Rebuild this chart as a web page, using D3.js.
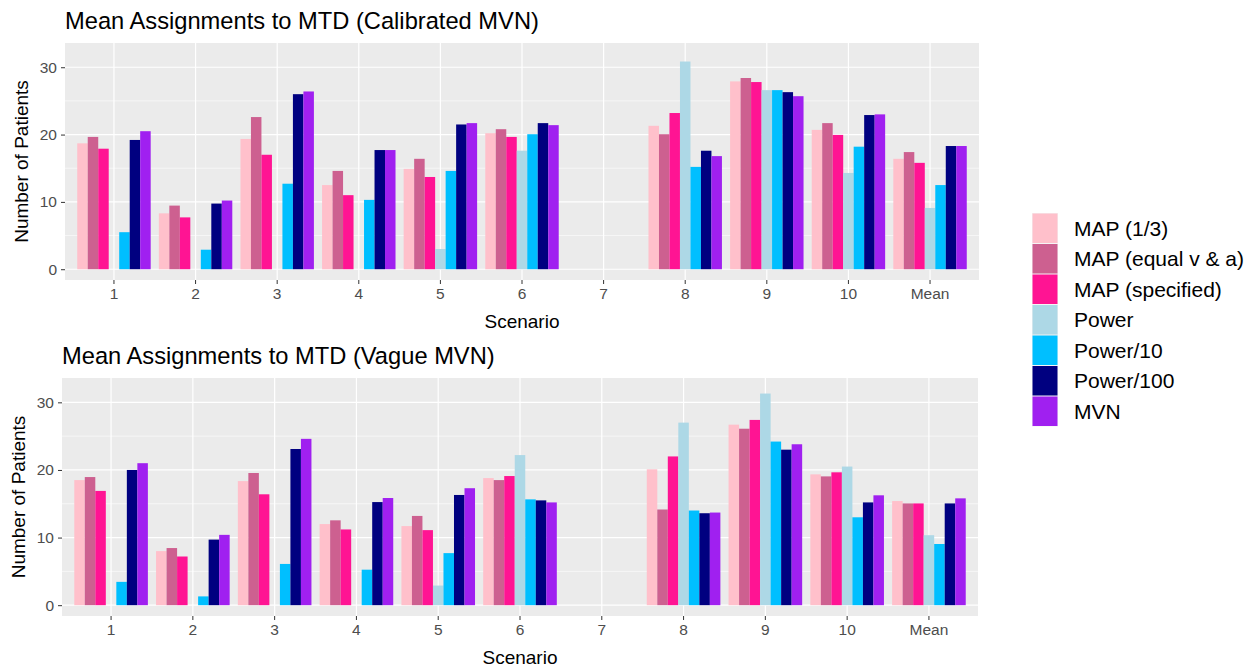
<!DOCTYPE html>
<html>
<head>
<meta charset="utf-8">
<script src="https://cdn.jsdelivr.net/npm/d3@7"></script>
<style>
body { margin: 0; background: #fff; }
text { font-family: "Liberation Sans", Arial, sans-serif; }
</style>
</head>
<body>
<script>
// canvas
var w = 1260, h = 667;

// categories and series
var scenarios = ["1", "2", "3", "4", "5", "6", "7", "8", "9", "10", "Mean"];
var methods = ["MAP (1/3)", "MAP (equal v & a)", "MAP (specified)", "Power", "Power/10", "Power/100", "MVN"];
var colours = ["#FFC0CB", "#CD6090", "#FF1493", "#ADD8E6", "#00BFFF", "#000080", "#A020F0"];
var yTicks = [0, 10, 20, 30];

// calibrated MVN, one array per method (null = no bar)
var calMap13   = [18.7, 8.3, 19.35, 12.5, 14.9, 20.2, null, 21.3, 27.9, 20.7, 16.4];
var calMapEq   = [19.65, 9.45, 22.6, 14.6, 16.4, 20.8, null, 20.05, 28.4, 21.7, 17.4];
var calMapSpec = [17.9, 7.7, 17.0, 11.0, 13.7, 19.65, null, 23.2, 27.8, 19.95, 15.8];
var calPower   = [null, null, null, null, 3.0, 17.6, null, 30.85, 26.6, 14.3, 9.1];
var calPow10   = [5.5, 2.9, 12.7, 10.3, 14.6, 20.05, null, 15.2, 26.6, 18.2, 12.5];
var calPow100  = [19.2, 9.75, 26.0, 17.7, 21.5, 21.7, null, 17.6, 26.3, 22.9, 18.3];
var calMvn     = [20.5, 10.2, 26.4, 17.7, 21.7, 21.4, null, 16.8, 25.7, 23.0, 18.3];

// vague MVN
var vagMap13   = [18.5, 8.0, 18.35, 12.0, 11.7, 18.8, null, 20.1, 26.7, 19.35, 15.4];
var vagMapEq   = [18.95, 8.45, 19.55, 12.55, 13.2, 18.5, null, 14.15, 26.1, 19.05, 15.05];
var vagMapSpec = [16.9, 7.2, 16.4, 11.2, 11.1, 19.1, null, 22.0, 27.4, 19.65, 15.05];
var vagPower   = [null, null, null, null, 2.9, 22.2, null, 27.0, 31.3, 20.5, 10.35];
var vagPow10   = [3.45, 1.3, 6.1, 5.25, 7.7, 15.65, null, 14.0, 24.2, 13.0, 9.05];
var vagPow100  = [20.0, 9.7, 23.1, 15.25, 16.3, 15.5, null, 13.6, 23.0, 15.2, 15.05];
var vagMvn     = [21.0, 10.4, 24.6, 15.85, 17.3, 15.2, null, 13.7, 23.8, 16.25, 15.8];

var calibrated = [calMap13, calMapEq, calMapSpec, calPower, calPow10, calPow100, calMvn];
var vague = [vagMap13, vagMapEq, vagMapSpec, vagPower, vagPow10, vagPow100, vagMvn];

var svg = d3.select("body").append("svg")
	.attr("width", w)
	.attr("height", h);

// draws one ggplot-style panel
function drawPanel(title, series, box) {
	var g = svg.append("g");

	var x = d3.scaleBand()
		.domain(scenarios)
		.range([box.left, box.right])
		.paddingInner(0)
		.paddingOuter(0.1);
	var bw = x.bandwidth();
	var inner = d3.scaleBand()
		.domain(methods)
		.range([0.05 * bw, 0.95 * bw])
		.padding(0);
	var y = d3.scaleLinear()
		.domain([-1.6, 33.6])
		.range([box.bottom, box.top]);

	// panel background
	g.append("rect")
		.attr("x", box.left).attr("y", box.top)
		.attr("width", box.right - box.left).attr("height", box.bottom - box.top)
		.attr("fill", "#EBEBEB");

	// minor grid
	g.selectAll(".minor").data([5, 15, 25]).enter().append("line")
		.attr("x1", box.left).attr("x2", box.right)
		.attr("y1", function(d) { return y(d); }).attr("y2", function(d) { return y(d); })
		.attr("stroke", "#fff").attr("stroke-width", 0.6);

	// major grid
	g.selectAll(".majorY").data(yTicks).enter().append("line")
		.attr("x1", box.left).attr("x2", box.right)
		.attr("y1", function(d) { return y(d); }).attr("y2", function(d) { return y(d); })
		.attr("stroke", "#fff").attr("stroke-width", 1.2);
	g.selectAll(".majorX").data(scenarios).enter().append("line")
		.attr("y1", box.top).attr("y2", box.bottom)
		.attr("x1", function(d) { return x(d) + bw / 2; })
		.attr("x2", function(d) { return x(d) + bw / 2; })
		.attr("stroke", "#fff").attr("stroke-width", 1.2);

	// bars
	methods.forEach(function(m, i) {
		var rows = scenarios.map(function(s, j) { return { s: s, v: series[i][j] }; })
			.filter(function(d) { return d.v !== null; });
		g.selectAll(".bar" + i).data(rows).enter().append("rect")
			.attr("x", function(d) { return x(d.s) + inner(m); })
			.attr("width", inner.bandwidth())
			.attr("y", function(d) { return y(d.v); })
			.attr("height", function(d) { return y(0) - y(d.v); })
			.attr("fill", colours[i]);
	});

	// axes
	var xAxis = d3.axisBottom(x).tickSize(4).tickPadding(4);
	var gx = g.append("g").attr("transform", "translate(0," + box.bottom + ")").call(xAxis);
	gx.select(".domain").remove();
	gx.selectAll("line").attr("stroke", "#333");
	gx.selectAll("text").attr("fill", "#4D4D4D").style("font-size", "15.5px");

	var yAxis = d3.axisLeft(y).tickValues(yTicks).tickSize(4).tickPadding(4);
	var gy = g.append("g").attr("transform", "translate(" + box.left + ",0)").call(yAxis);
	gy.select(".domain").remove();
	gy.selectAll("line").attr("stroke", "#333");
	gy.selectAll("text").attr("fill", "#4D4D4D").style("font-size", "15.5px");

	// titles
	g.append("text")
		.attr("x", box.left).attr("y", box.top - 14)
		.style("font-size", "23.7px")
		.text(title);
	g.append("text")
		.attr("x", (box.left + box.right) / 2).attr("y", box.bottom + 48)
		.attr("text-anchor", "middle")
		.style("font-size", "19px")
		.text("Scenario");
	g.append("text")
		.attr("transform", "translate(" + (box.left - 37) + "," + ((box.top + box.bottom) / 2) + ") rotate(-90)")
		.attr("text-anchor", "middle")
		.style("font-size", "19px")
		.text("Number of Patients");
}

drawPanel("Mean Assignments to MTD (Calibrated MVN)", calibrated, { left: 65, right: 979, top: 43, bottom: 280 });
drawPanel("Mean Assignments to MTD (Vague MVN)", vague, { left: 62, right: 978, top: 378, bottom: 616 });

// legend
var legend = svg.append("g").attr("transform", "translate(1032,213)");
var keys = legend.selectAll(".key").data(methods).enter().append("g")
	.attr("transform", function(d, i) { return "translate(0," + (i * 30.5) + ")"; });
keys.append("rect")
	.attr("width", 26).attr("height", 30.5)
	.attr("fill", "#F2F2F2");
keys.append("rect")
	.attr("x", 0.5).attr("y", 0.5)
	.attr("width", 25).attr("height", 29.5)
	.attr("fill", function(d, i) { return colours[i]; });
keys.append("text")
	.attr("x", 42).attr("y", 15.5)
	.attr("dy", "0.35em")
	.style("font-size", "21px")
	.text(function(d) { return d; });
</script>
</body>
</html>
